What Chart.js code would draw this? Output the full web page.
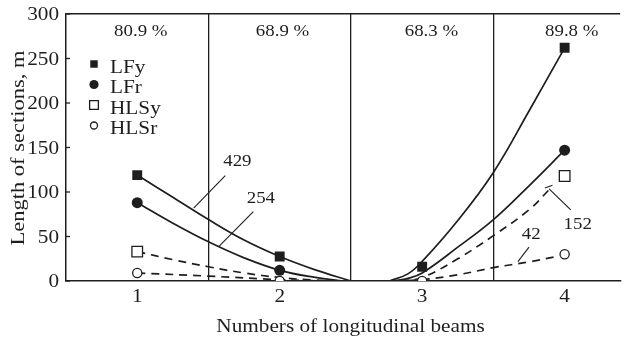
<!DOCTYPE html>
<html>
<head>
<meta charset="utf-8">
<script src="https://cdn.jsdelivr.net/npm/chart.js@4.4.1/dist/chart.umd.min.js"></script>
<style>
  html, body { margin: 0; padding: 0; background: #fff; }
  #wrap { width: 629px; height: 339px; }
</style>
</head>
<body>
<div id="wrap"><canvas id="chart" width="629" height="339"></canvas></div>
<script>
// measured values
const beams = [1, 2, 3, 4];
const shares = ['80.9 %', '68.9 %', '68.3 %', '89.8 %'];
const seriesNames = ['LFy', 'LFr', 'HLSy', 'HLSr'];
const lfyPts  = [119, 27.5, 16, 262];
const lfrPts  = [88, 12, null, 147];
const hlsyPts = [33, null, null, 118];
const hlsrPts = [9, 0, 0, 30];
const yTicks = [0, 50, 100, 150, 200, 250, 300];

// fitted curves (each falls to the axis, then rises again)
const lfyLeftX   = [1, 1.25, 1.5, 1.75, 2, 2.25, 2.5];
const lfyLeftY   = [119, 94, 69, 46, 27.5, 12.5, 0];
const lfyRightX  = [2.77, 2.9, 3, 3.25, 3.5, 3.75, 4];
const lfyRightY  = [0, 8, 22, 68, 122, 191, 262];
const lfrLeftX   = [1, 1.25, 1.5, 1.75, 2, 2.25, 2.45];
const lfrLeftY   = [88, 65, 44, 26, 12, 4, 0];
const lfrRightX  = [2.8, 2.9, 3, 3.25, 3.5, 3.75, 4];
const lfrRightY  = [0, 3, 9, 38, 69, 107, 147];
const hlsyLeftX  = [1, 1.25, 1.5, 1.75, 2, 2.25, 2.5];
const hlsyLeftY  = [33, 24, 16, 9, 4, 1, 0];
const hlsyRightX = [2.85, 3, 3.25, 3.5, 3.75, 3.9];
const hlsyRightY = [0, 4, 25, 51, 80, 104];
const hlsrLeftX  = [1, 1.5, 2, 2.3];
const hlsrLeftY  = [9, 5.5, 1.5, 0];
const hlsrRightX = [2.8, 3, 3.25, 3.5, 3.75, 3.93];
const hlsrRightY = [0, 1.5, 7, 15, 21.5, 27];

const INK = '#1e1e1e';
const FONT = 'Liberation Serif';
const WIDE = 1.18; // the original serif is wider than Times

const xy = (xs, ys) => xs.map((x, i) => ({ x, y: ys[i] }));

function markerSet(label, ys, style, filled, r, order) {
  return {
    label, data: xy(beams, ys), showLine: false, order,
    pointStyle: style, pointRadius: r, pointHoverRadius: r,
    pointBackgroundColor: filled ? INK : '#fff', pointBorderColor: INK, pointBorderWidth: filled ? 0 : 1.3
  };
}
function curveSet(xs, ys, dashed) {
  return {
    label: '', data: xy(xs, ys), showLine: true, order: 10, pointRadius: 0,
    borderColor: INK, borderWidth: 1.7, borderDash: dashed ? [8, 6] : [], tension: 0.4
  };
}

const datasets = [
  markerSet(seriesNames[0], lfyPts, 'rect', true, 7, 4),
  markerSet(seriesNames[1], lfrPts, 'circle', true, 5.5, 3),
  markerSet(seriesNames[2], hlsyPts, 'rect', false, 7.5, 2),
  markerSet(seriesNames[3], hlsrPts, 'circle', false, 4.6, 1),
  curveSet(lfyLeftX, lfyLeftY, false),
  curveSet(lfyRightX, lfyRightY, false),
  curveSet(lfrLeftX, lfrLeftY, false),
  curveSet(lfrRightX, lfrRightY, false),
  curveSet(hlsyLeftX, hlsyLeftY, true),
  curveSet(hlsyRightX, hlsyRightY, true),
  curveSet(hlsrLeftX, hlsrLeftY, true),
  curveSet(hlsrRightX, hlsrRightY, true)
];

function wideText(ctx, text, x, y, align, rot, wide) {
  ctx.save();
  ctx.translate(x, y);
  if (rot) ctx.rotate(rot);
  ctx.scale(wide || WIDE, 1);
  ctx.textAlign = align;
  ctx.fillText(text, 0, 0);
  ctx.restore();
}

// axis texts, legend, percent labels, callouts
const extras = {
  id: 'extras',
  afterDatasetsDraw(chart) {
    const { ctx, chartArea, scales: { x, y } } = chart;
    const px = v => x.getPixelForValue(v), py = v => y.getPixelForValue(v);
    ctx.save();
    ctx.strokeStyle = INK; ctx.lineWidth = 1.3;
    y.ticks.forEach(t => {
      ctx.beginPath(); ctx.moveTo(chartArea.left, py(t.value)); ctx.lineTo(chartArea.left + 4, py(t.value)); ctx.stroke();
    });

    ctx.fillStyle = INK;
    ctx.textBaseline = 'alphabetic';
    ctx.font = `18px "${FONT}"`;
    yTicks.forEach(v => wideText(ctx, String(v), chartArea.left - 7, py(v) + 6, 'right'));
    beams.forEach(v => wideText(ctx, String(v), px(v), 301.5, 'center'));
    wideText(ctx, 'Numbers of longitudinal beams', (chartArea.left + 635) / 2, 332, 'center');
    wideText(ctx, 'Length of sections, m', 24, 148, 'center', -Math.PI / 2, 1.25);

    ctx.font = `16px "${FONT}"`;
    const shareX = [1.025, 2.02, 3.065, 4.05];
    shares.forEach((s, i) => wideText(ctx, s, px(shareX[i]), py(275), 'center'));

    // legend
    ctx.font = `18px "${FONT}"`;
    for (let i = 0; i < 4; i++) {
      const ds = chart.data.datasets[i];
      const base = 72.5 + i * 20.5;
      ctx.fillStyle = ds.pointBackgroundColor;
      ctx.strokeStyle = ds.pointBorderColor;
      ctx.lineWidth = ds.pointBorderWidth || 0;
      const r = [5.3, 4.6, 6.2, 3.5][i];
      Chart.helpers.drawPoint(ctx, { pointStyle: ds.pointStyle, radius: r, rotation: 0, borderWidth: ds.pointBorderWidth }, 94, base - 8.5);
      ctx.fillStyle = INK;
      wideText(ctx, ds.label, 110, base, 'left');
    }

    // callouts: text, text pos (baseline), leader from, leader to
    const callouts = [
      ['429', [1.703, 129], [1.396, 82], [1.618, 118.4]],
      ['254', [1.868, 88], [1.572, 38.6], [1.815, 78]],
      ['152', [4.092, 58.6], [3.891, 103.4], [4.043, 80]],
      ['42', [3.765, 47], [3.75, 38], [3.672, 21.7]]
    ];
    ctx.font = `16px "${FONT}"`;
    ctx.lineWidth = 1.1;
    ctx.strokeStyle = INK;
    callouts.forEach(([t, p, a, b]) => {
      wideText(ctx, t, px(p[0]), py(p[1]), 'center');
      ctx.beginPath();
      ctx.moveTo(px(a[0]), py(a[1]));
      ctx.lineTo(px(b[0]), py(b[1]));
      ctx.stroke();
    });
    // small bar at the foot of the 152 leader
    ctx.beginPath(); ctx.moveTo(px(3.862), py(104.5)); ctx.lineTo(px(3.915), py(107.5)); ctx.stroke();
    ctx.restore();
  }
};

new Chart(document.getElementById('chart'), {
  type: 'scatter',
  data: { datasets },
  options: {
    responsive: false,
    animation: false,
    devicePixelRatio: 1,
    layout: { padding: { top: 14, right: 0, left: 0, bottom: 0 } },
    plugins: { legend: { display: false }, tooltip: { enabled: false } },
    scales: {
      x: {
        type: 'linear', min: 0.5, max: 4.39,
        afterBuildTicks: s => { s.ticks = [1, 1.5, 2, 2.5, 3, 3.5, 4].map(v => ({ value: v })); },
        afterFit: s => { s.height = 58; },
        ticks: { display: false },
        grid: {
          drawTicks: false, lineWidth: 1.3,
          color: c => (c.tick && c.tick.value % 1 !== 0 ? INK : 'rgba(0,0,0,0)')
        },
        border: { display: true, color: INK, width: 1.5 }
      },
      y: {
        min: 0, max: 300,
        afterBuildTicks: s => { s.ticks = yTicks.map(v => ({ value: v })); },
        afterFit: s => { s.width = 66; },
        ticks: { display: false },
        grid: {
          drawTicks: false, lineWidth: 1.5,
          color: c => (c.tick && c.tick.value === 300 ? INK : 'rgba(0,0,0,0)')
        },
        border: { display: true, color: INK, width: 1.5 }
      }
    }
  },
  plugins: [extras]
});
</script>
</body>
</html>
